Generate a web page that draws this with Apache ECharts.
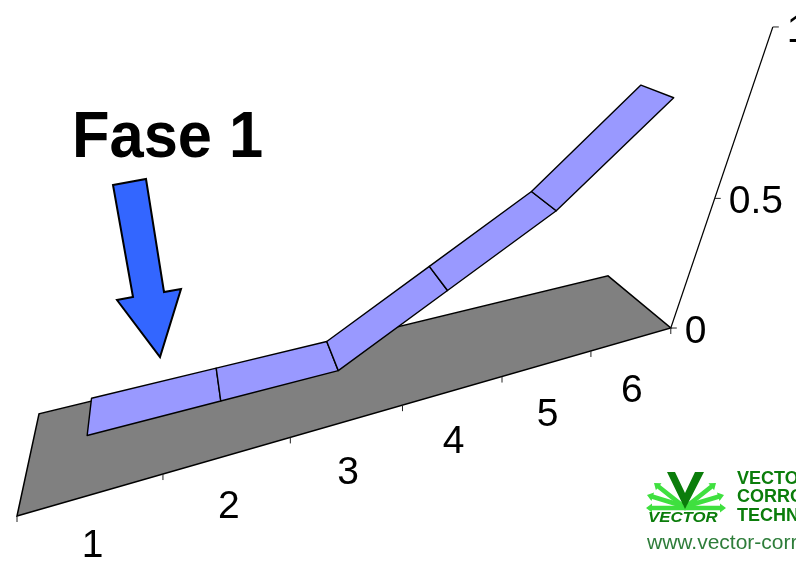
<!DOCTYPE html>
<html>
<head>
<meta charset="utf-8">
<style>html,body{margin:0;padding:0;background:#fff;overflow:hidden}#chart{width:796px;height:561px}</style>
<script src="https://cdn.jsdelivr.net/npm/echarts@6/dist/echarts.min.js"></script>
</head>
<body>
<div id="chart"></div>
<script>
// Chart values
const categories = ['1', '2', '3', '4', '5', '6'];
const ribbonValues = [0.1, 0.1, 0.1, 0.3, 0.5, 0.8];
const valueTicks = [0, 0.5, 1];
const valueTickLabels = ['0', '0.5', '1'];
const phaseTitle = 'Fase 1';
const logoLines = ['VECTOR', 'CORROSION', 'TECHNOLOGIES'];
const logoBrand = 'VECTOR';
const logoUrl = 'www.vector-corrosion.com';

// Perspective camera: category position t, depth d (0 front, 1 back), value z
const RIBBON_FRONT = 0.3, RIBBON_BACK = 0.7;
function project(t, d, z) {
  const w = 1 + 0.0728 * t + 0.1972 * d - 0.35 * z;
  return [
    (17 + 157.8 * t + 29.7 * d - 123.9 * z) / w,
    (516 - 7.45 * t - 20.5 * d - 442 * z) / w
  ];
}

const FONT = '"Liberation Sans", Arial, sans-serif';
const INK = '#000';
const tickLen = 6;

function at(api, t, d, z) { return api.coord(project(t, d, z)); }

function renderFloor(params, api) {
  const n = categories.length;
  return {
    type: 'polygon',
    shape: { points: [at(api, 0, 0, 0), at(api, n, 0, 0), at(api, n, 1, 0), at(api, 0, 1, 0)] },
    style: { fill: '#808080', stroke: INK, lineWidth: 1.5 }
  };
}

function renderRibbon(params, api) {
  const i = api.value(0), z0 = api.value(1), z1 = api.value(2);
  const t0 = i + 0.5, t1 = i + 1.5;
  return {
    type: 'polygon',
    shape: { points: [
      at(api, t0, RIBBON_FRONT, z0), at(api, t1, RIBBON_FRONT, z1),
      at(api, t1, RIBBON_BACK, z1), at(api, t0, RIBBON_BACK, z0)
    ] },
    style: { fill: '#9999FF', stroke: INK, lineWidth: 1.4, lineJoin: 'round' }
  };
}

function renderCategoryTick(params, api) {
  const t = api.value(0);
  const p = at(api, t, 0, 0);
  const children = [{
    type: 'line',
    shape: { x1: p[0], y1: p[1], x2: p[0], y2: p[1] + tickLen },
    style: { stroke: '#222', lineWidth: 1 }
  }];
  if (t < categories.length) {
    const c = at(api, t + 0.5, 0, 0);
    children.push({
      type: 'text',
      style: { text: categories[t], x: c[0], y: c[1] + 52, fill: INK, font: '39px ' + FONT, align: 'center', verticalAlign: 'middle' }
    });
  }
  return { type: 'group', children };
}

function renderValueAxis(params, api) {
  const n = categories.length;
  const a = at(api, n, 0, valueTicks[0]);
  const b = at(api, n, 0, valueTicks[valueTicks.length - 1]);
  return {
    type: 'line',
    shape: { x1: a[0], y1: a[1], x2: b[0], y2: b[1] },
    style: { stroke: INK, lineWidth: 1.2 }
  };
}

function renderValueTick(params, api) {
  const i = api.value(0);
  const p = at(api, categories.length, 0, valueTicks[i]);
  return {
    type: 'group',
    children: [{
      type: 'line',
      shape: { x1: p[0], y1: p[1], x2: p[0] + tickLen, y2: p[1] },
      style: { stroke: '#222', lineWidth: 1 }
    }, {
      type: 'text',
      style: { text: valueTickLabels[i], x: p[0] + tickLen + 8, y: p[1] + 4, fill: INK, font: '39px ' + FONT, align: 'left', verticalAlign: 'middle' }
    }]
  };
}

// Green fan emblem of the logo: each ray is a shaft ending in a small arrowhead
const DARK_GREEN = '#0B7D0B', BRIGHT_GREEN = '#3FE03F';
function ray(x1, y1, x2, y2) {
  const len = Math.hypot(x2 - x1, y2 - y1);
  const ux = (x2 - x1) / len, uy = (y2 - y1) / len;
  const nx = -uy, ny = ux;
  const hw = 2.3, head = 6, hh = 4.5;
  const bx = x2 - ux * head, by = y2 - uy * head;
  return {
    type: 'polygon', silent: true,
    shape: { points: [
      [x1 + nx * hw, y1 + ny * hw], [bx + nx * hw, by + ny * hw], [bx + nx * hh, by + ny * hh], [x2, y2],
      [bx - nx * hh, by - ny * hh], [bx - nx * hw, by - ny * hw], [x1 - nx * hw, y1 - ny * hw]
    ] },
    style: { fill: BRIGHT_GREEN }
  };
}
const logoGraphics = [
  ray(683, 506, 647, 495), ray(683, 506, 654, 483), ray(687, 506, 724, 495), ray(687, 506, 716, 483),
  ray(686, 508, 646, 508), ray(684, 508, 726, 508),
  { type: 'polygon', silent: true, shape: { points: [[667, 472], [675, 472], [685, 493], [695, 472], [704, 472], [685, 509]] }, style: { fill: DARK_GREEN } },
  { type: 'text', silent: true, x: 648, y: 518, scaleX: 1.12, style: { text: logoBrand, fill: DARK_GREEN, font: 'italic bold 15px ' + FONT, align: 'left', verticalAlign: 'middle' } },
  ...logoLines.map((line, i) => ({
    type: 'text', silent: true,
    style: { text: line, x: 737, y: 479 + i * 18.5, fill: DARK_GREEN, font: 'bold 18px ' + FONT, align: 'left', verticalAlign: 'middle' }
  })),
  { type: 'text', silent: true, style: { text: logoUrl, x: 647, y: 543, fill: '#2E7D3A', font: '21px ' + FONT, align: 'left', verticalAlign: 'middle' } }
];

const chart = echarts.init(document.getElementById('chart'), null, { renderer: 'canvas' });
chart.setOption({
  animation: false,
  backgroundColor: '#fff',
  tooltip: { show: false },
  grid: { left: 0, right: 0, top: 0, bottom: 0 },
  xAxis: { type: 'value', min: 0, max: 796, show: false },
  yAxis: { type: 'value', min: 0, max: 561, inverse: true, show: false },
  series: [
    { type: 'custom', silent: true, clip: false, renderItem: renderFloor, data: [[0, 0]], z: 1 },
    {
      type: 'custom', silent: true, clip: false, renderItem: renderRibbon, z: 2,
      data: ribbonValues.slice(0, -1).map((v, i) => [i, v, ribbonValues[i + 1]])
    },
    {
      type: 'custom', silent: true, clip: false, renderItem: renderCategoryTick, z: 3,
      data: categories.concat(['']).map((c, i) => [i])
    },
    { type: 'custom', silent: true, clip: false, renderItem: renderValueAxis, data: [[0, 0]], z: 3 },
    {
      type: 'custom', silent: true, clip: false, renderItem: renderValueTick, z: 3,
      data: valueTicks.map((v, i) => [i, v])
    }
  ],
  graphic: [
    { type: 'text', silent: true, x: 72, y: 139, scaleX: 0.96, style: { text: phaseTitle, fill: INK, font: 'bold 64px ' + FONT, align: 'left', verticalAlign: 'middle' } },
    {
      type: 'polygon', silent: true,
      shape: { points: [[113, 185], [146, 179], [164, 292], [181, 289], [160, 357], [117, 300], [133, 297]] },
      style: { fill: '#3366FF', stroke: INK, lineWidth: 2, lineJoin: 'miter' }
    },
    ...logoGraphics
  ]
});
</script>
</body>
</html>
